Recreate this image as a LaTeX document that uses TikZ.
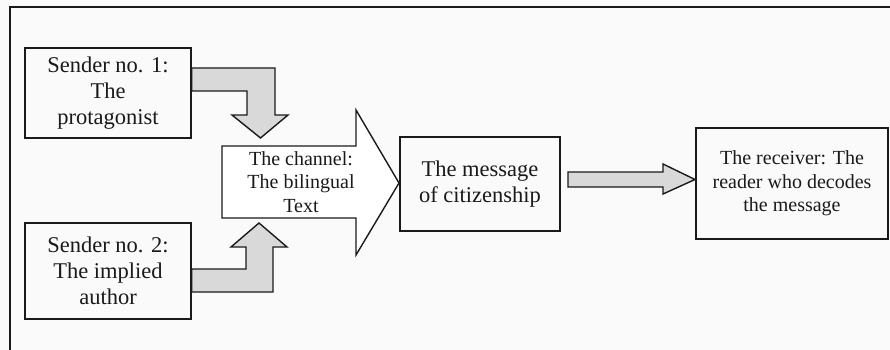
\documentclass[tikz,border=0pt]{standalone}
\usepackage{fontspec}
\setmainfont{Liberation Serif}
\definecolor{bgc}{HTML}{FAFAFA}
\definecolor{linec}{HTML}{1A1A1A}
\definecolor{arrowgray}{HTML}{D9D9D9}
\begin{document}
\begin{tikzpicture}[x=1pt,y=-1pt,
  box/.style={draw=linec, line width=1.4pt, inner sep=0pt, align=center, text=linec},
  big/.style={font=\fontsize{22.5}{26}\selectfont},
  small/.style={font=\fontsize{20}{23.5}\selectfont},
  blockarrow/.style={draw=linec, line width=1.4pt, fill=arrowgray, line join=miter}]
\fill[bgc] (0,0) rectangle (890,350);
\useasboundingbox (0,0) rectangle (890,350);
\draw[line width=2pt, linec] (10,350) -- (10,7) -- (890,7);

% boxes
\node[box, big, minimum width=166pt, minimum height=90pt] (s1) at (108,93) {Sender no. 1:\\The\\protagonist};
\node[box, big, minimum width=166pt, minimum height=96pt] (s2) at (108,271) {Sender no. 2:\\The implied\\author};
\node[box, big, minimum width=160pt, minimum height=94pt] (msg) at (480,184) {The message\\of citizenship};
\node[box, small, minimum width=192pt, minimum height=111pt] (rcv) at (792,183.5) {The receiver: The\\reader who decodes\\the message};

% channel arrow
\draw[blockarrow, fill=white] (222,146) -- (356,146) -- (356,110) -- (399,183) -- (356,255) -- (356,218) -- (222,218) -- cycle;
\node[small, align=center, text=linec, inner sep=0pt] (ch) at (301,182) {The channel:\\The bilingual\\Text};

% bent arrows
\draw[blockarrow] (s1.east |- 0,68) -- (275,68) -- (275,115) -- (288,115) -- (260.5,138) -- (232,115) -- (247,115) -- (247,91) -- (s1.east |- 0,91) -- cycle;
\draw[blockarrow] (s2.east |- 0,269) -- (246,269) -- (246,247) -- (231,247) -- (259,223) -- (287,247) -- (273,247) -- (273,292) -- (s2.east |- 0,292) -- cycle;

% arrow to receiver
\draw[blockarrow] (568,172) -- (663,172) -- (663,164) -- (695,179.5) -- (663,194) -- (663,187) -- (568,187) -- cycle;
\end{tikzpicture}
\end{document}
